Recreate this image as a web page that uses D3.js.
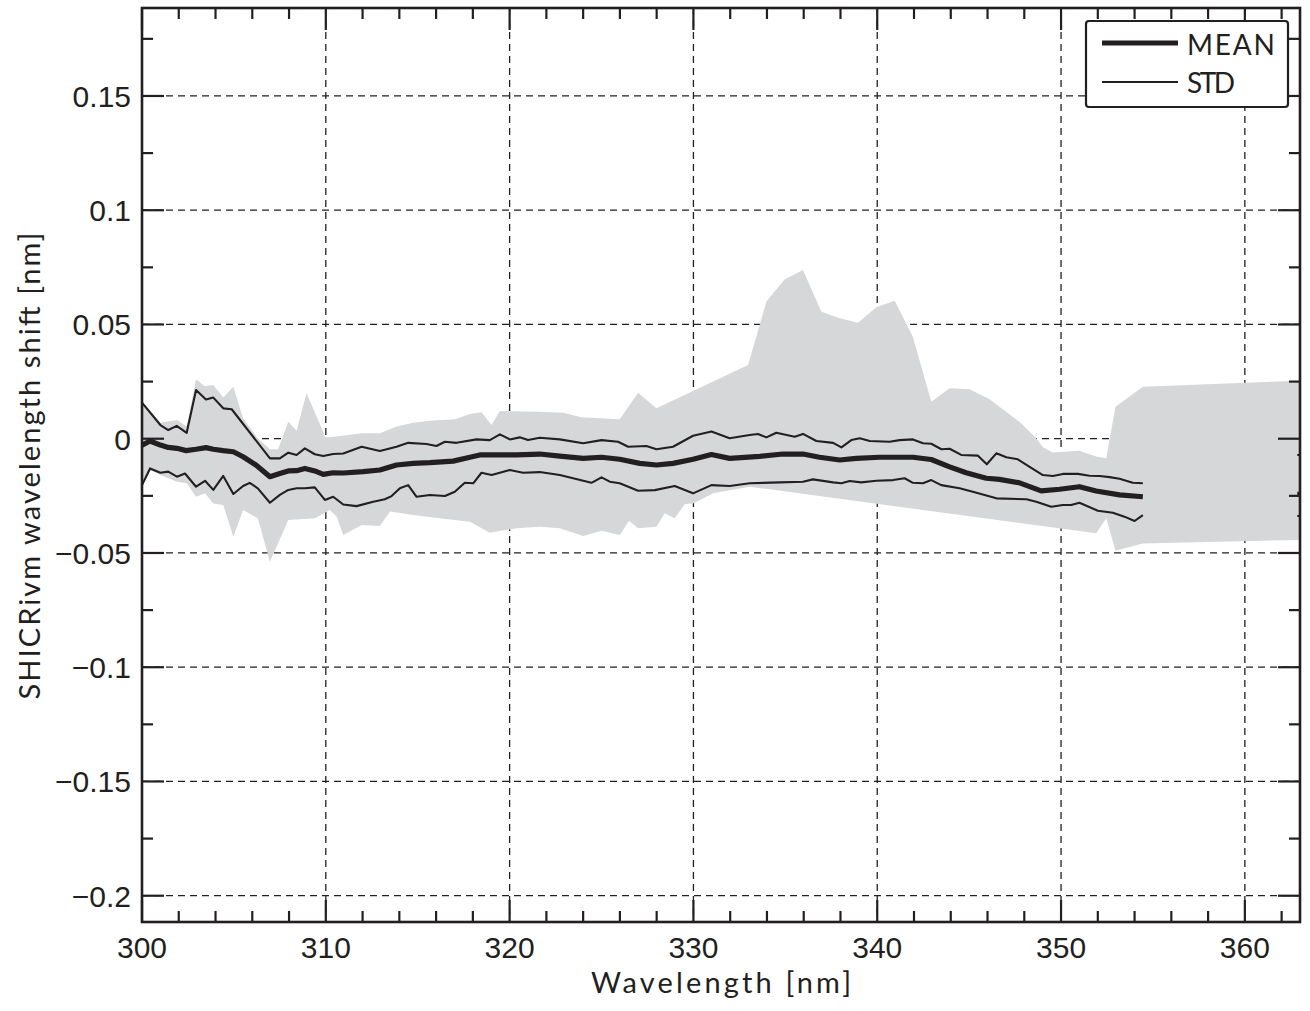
<!DOCTYPE html>
<html><head><meta charset="utf-8">
<script src="https://cdn.jsdelivr.net/npm/d3@7"></script>
<style>
html,body{margin:0;padding:0;background:#fff;}
</style></head>
<body><svg id="chart" width="1310" height="1011"></svg>
<script>
// ---------------- DATA ----------------
const meanW = [300.0,300.44,301.0,301.43,301.9,302.4,302.94,303.48,303.88,304.42,304.97,305.5,306.2,306.96,307.5,307.96,308.41,308.86,309.4,309.86,310.4,310.95,312.03,312.94,313.85,314.75,315.66,316.93,317.84,318.38,319.29,320.38,321.64,322.73,324.0,325.0,325.99,327.08,327.99,328.89,329.98,330.98,331.97,333.61,334.87,335.96,336.86,337.96,338.86,340.13,341.94,342.94,343.94,344.84,345.93,346.65,347.74,348.92,349.92,351.0,351.91,353.18,354.45];
const meanV = [-0.0028,-0.001,-0.0028,-0.0038,-0.0042,-0.0052,-0.0046,-0.0039,-0.0046,-0.0052,-0.0057,-0.0079,-0.0115,-0.0166,-0.0152,-0.0141,-0.014,-0.013,-0.0141,-0.0156,-0.0149,-0.015,-0.0144,-0.0137,-0.0115,-0.0108,-0.0105,-0.0098,-0.0081,-0.0071,-0.0071,-0.0071,-0.0067,-0.0076,-0.0086,-0.0081,-0.009,-0.0108,-0.0115,-0.0108,-0.009,-0.0069,-0.0086,-0.0077,-0.0067,-0.0067,-0.0081,-0.0093,-0.0086,-0.0081,-0.0081,-0.0091,-0.0123,-0.0149,-0.0173,-0.0178,-0.0193,-0.0228,-0.0221,-0.021,-0.0229,-0.0246,-0.0254];

const stdHiW = [300.0,301.0,301.43,301.89,302.43,302.94,303.48,303.88,304.42,304.88,306.96,307.5,307.96,308.41,308.86,309.4,309.86,310.4,310.95,311.95,312.94,313.85,314.48,315.48,316.02,316.48,317.11,318.2,318.92,319.47,320.01,320.55,321.0,321.64,322.73,324.0,325.0,325.9,326.45,327.44,327.99,328.89,329.98,330.98,331.97,333.06,333.51,333.97,334.51,335.51,335.96,336.69,337.6,338.05,338.59,339.05,339.59,340.67,341.22,341.94,342.49,342.94,343.49,343.94,344.57,345.48,345.96,346.48,347.02,347.65,348.29,349.01,349.56,350.1,350.91,351.55,352.1,352.64,353.18,353.9,354.45];
const stdHiV = [0.0158,0.006,0.0038,0.0056,0.0026,0.0213,0.0172,0.018,0.0133,0.0129,-0.0086,-0.0086,-0.0061,-0.0071,-0.0042,-0.0068,-0.0076,-0.0067,-0.0065,-0.0035,-0.0054,-0.0035,-0.0018,-0.0023,-0.0032,-0.0013,-0.0018,-0.0003,-0.0006,0.0019,-0.0003,0.0006,-0.0006,0.0004,-0.0003,-0.002,-0.0006,-0.0013,-0.0035,-0.0032,-0.0046,-0.0035,0.0013,0.0032,0.0002,0.0016,0.0021,0.0006,0.0026,0.0009,0.0021,-0.001,-0.0018,-0.0038,-0.0006,0.0002,-0.001,-0.0013,-0.0006,-0.0003,-0.002,-0.0022,-0.0046,-0.0044,-0.0071,-0.0074,-0.0112,-0.0064,-0.0081,-0.009,-0.0123,-0.0159,-0.0163,-0.0154,-0.0154,-0.0162,-0.0163,-0.0168,-0.0175,-0.0193,-0.0195];

const stdLoW = [300.0,300.44,301.0,301.43,301.9,302.34,302.94,303.43,303.88,304.42,304.97,305.5,305.86,306.3,306.96,307.5,307.96,308.41,308.86,309.4,309.95,310.4,310.95,311.67,312.58,313.21,313.58,314.03,314.48,314.94,315.66,316.48,317.02,317.56,318.02,318.47,319.02,320.01,320.73,321.64,322.73,324.45,325.0,325.45,325.99,326.99,327.9,328.98,329.98,330.98,331.97,333.06,334.69,335.96,336.5,337.6,338.05,338.5,339.13,339.95,340.86,341.49,341.94,342.49,342.94,343.48,344.48,345.2,346.48,348.11,348.65,349.47,350.1,350.55,351.0,352.0,352.82,353.45,354.0,354.45];
const stdLoV = [-0.0203,-0.013,-0.0149,-0.0144,-0.0166,-0.0152,-0.021,-0.0184,-0.0224,-0.0163,-0.0242,-0.0207,-0.0193,-0.0217,-0.028,-0.0246,-0.0224,-0.0217,-0.0217,-0.0213,-0.0268,-0.0254,-0.0288,-0.0295,-0.0276,-0.0265,-0.0251,-0.0217,-0.0203,-0.0254,-0.0246,-0.0251,-0.0232,-0.0193,-0.0195,-0.0149,-0.0159,-0.0137,-0.0149,-0.0146,-0.0159,-0.0193,-0.0169,-0.0188,-0.0195,-0.0228,-0.0225,-0.0207,-0.0239,-0.0203,-0.0207,-0.0195,-0.0191,-0.0188,-0.0178,-0.0191,-0.0195,-0.0185,-0.0191,-0.0184,-0.0181,-0.0173,-0.0193,-0.0195,-0.0181,-0.0203,-0.0217,-0.0232,-0.0261,-0.0265,-0.0276,-0.0298,-0.029,-0.029,-0.028,-0.0315,-0.0324,-0.0341,-0.036,-0.0334];

const envMaxW = [300.0,301.0,301.9,302.43,302.94,303.4,303.88,304.42,304.97,305.5,306.3,306.96,307.4,307.96,308.41,308.95,309.86,309.95,310.22,311.95,312.94,313.85,314.75,315.66,317.02,317.84,318.47,319.02,319.47,321.64,322.91,323.91,325.99,326.99,327.99,332.97,333.97,334.97,335.96,336.96,337.96,338.95,339.95,340.95,341.94,342.94,343.94,345.02,346.11,347.74,348.65,349.01,349.56,351.0,351.91,352.46,352.96,354.45,363.0];
const envMaxV = [0.0162,0.007,0.0082,0.0053,0.026,0.023,0.0235,0.018,0.0228,0.0089,0.0002,-0.0046,-0.0046,0.0074,0.0035,0.0199,0.0031,0.0006,0.0006,0.0024,0.0024,0.0053,0.007,0.0079,0.0085,0.0108,0.0116,0.006,0.0121,0.0118,0.0114,0.0094,0.0085,0.0201,0.0133,0.0323,0.06,0.0698,0.0738,0.0556,0.0527,0.0508,0.0575,0.0604,0.0446,0.0162,0.0221,0.0216,0.0173,0.0074,0.0002,-0.0037,-0.006,-0.0053,-0.0078,-0.0086,0.014,0.0228,0.0254];

const envMinW = [300.0,300.44,301.0,301.9,302.43,302.94,303.43,303.88,304.42,304.97,305.5,306.3,306.96,307.96,309.4,310.22,310.59,310.95,311.95,312.94,313.49,314.75,316.2,317.84,318.92,320.38,321.64,322.73,324.0,325.0,325.99,326.5,326.99,327.99,328.44,328.98,329.53,329.98,331.07,333.06,351.91,352.46,352.96,354.45,363.0];
const envMinV = [-0.021,-0.0137,-0.0159,-0.0188,-0.0195,-0.0254,-0.0239,-0.0283,-0.029,-0.0429,-0.0312,-0.0348,-0.0538,-0.0356,-0.0348,-0.0312,-0.0341,-0.0421,-0.0378,-0.0382,-0.0319,-0.0334,-0.0348,-0.0363,-0.0411,-0.0392,-0.0385,-0.0392,-0.0426,-0.0403,-0.0421,-0.0359,-0.0392,-0.0385,-0.0326,-0.0348,-0.0286,-0.0283,-0.0239,-0.021,-0.0414,-0.0348,-0.049,-0.0458,-0.0443];

// short stubs of the series at the right edge (363 nm)
const tailW = [362.85, 363.0];
const tailMeanV = [-0.0243, -0.0243];
const tailHiV = [-0.0071, -0.0071];
const tailLoV = [-0.0338, -0.0338];

const xMajorTicks = [300,310,320,330,340,350,360];
const xMinorTicks = [302,304,306,308,312,314,316,318,322,324,326,328,332,334,336,338,342,344,346,348,352,354,356,358,362];
const yMajorTicks = [-0.2,-0.15,-0.1,-0.05,0,0.05,0.1,0.15];
const yMinorTicks = [-0.175,-0.125,-0.075,-0.025,0.025,0.075,0.125,0.175];
const yTickLabels = ["\u22120.2","\u22120.15","\u22120.1","\u22120.05","0","0.05","0.1","0.15"];
const xLabel = "Wavelength [nm]";
const yLabel = "SHICRivm wavelength shift [nm]";
const legendLabels = ["MEAN","STD"];

// ---------------- CHART ----------------
const ink = "#231f20";
const L = 142, R = 1300, T = 8, B = 922;
const svg = d3.select("#chart");
const x = d3.scaleLinear().domain([300,363]).range([L,R]);
const y = d3.scaleLinear().domain([-0.2115,0.1885]).range([B,T]);

svg.append("defs").append("clipPath").attr("id","clip")
  .append("rect").attr("x",L).attr("y",T).attr("width",R-L).attr("height",B-T);

// grid
const grid = svg.append("g").attr("stroke",ink).attr("stroke-width",1.3).attr("stroke-dasharray","7,5");
grid.selectAll("line.gx").data(xMajorTicks).join("line")
  .attr("x1",d=>x(d)).attr("x2",d=>x(d)).attr("y1",T).attr("y2",B);
grid.selectAll("line.gy").data(yMajorTicks).join("line")
  .attr("y1",d=>y(d)).attr("y2",d=>y(d)).attr("x1",L).attr("x2",R);

const plot = svg.append("g").attr("clip-path","url(#clip)");

// envelope
const upper = envMaxW.map((w,i)=>[w,envMaxV[i]]);
const lower = envMinW.map((w,i)=>[w,envMinV[i]]).reverse();
const poly = upper.concat(lower);
plot.append("path")
  .attr("d", d3.line().x(d=>x(d[0])).y(d=>y(d[1]))(poly) + "Z")
  .attr("fill","#d6d7d9").attr("stroke","none");

const line = d3.line().x(d=>x(d[0])).y(d=>y(d[1]));
function drawSeries(ws, vs, width){
  plot.append("path").datum(ws.map((w,i)=>[w,vs[i]]))
    .attr("d",line).attr("fill","none").attr("stroke",ink)
    .attr("stroke-width",width).attr("stroke-linejoin","round");
}
drawSeries(stdHiW, stdHiV, 2.1);
drawSeries(stdLoW, stdLoV, 2.1);
drawSeries(meanW, meanV, 5.2);
drawSeries(tailW, tailHiV, 2);
drawSeries(tailW, tailLoV, 2);
drawSeries(tailW, tailMeanV, 5);

// ticks (inward on all sides)
function tickLines(vals, isX, len, width){
  const g = svg.append("g").attr("stroke",ink).attr("stroke-width",width);
  vals.forEach(v=>{
    if(isX){
      g.append("line").attr("x1",x(v)).attr("x2",x(v)).attr("y1",B).attr("y2",B-len);
      g.append("line").attr("x1",x(v)).attr("x2",x(v)).attr("y1",T).attr("y2",T+len);
    } else {
      g.append("line").attr("y1",y(v)).attr("y2",y(v)).attr("x1",L).attr("x2",L+len);
      g.append("line").attr("y1",y(v)).attr("y2",y(v)).attr("x1",R).attr("x2",R-len);
    }
  });
}
tickLines(xMajorTicks, true, 22, 2.2);
tickLines(xMinorTicks, true, 11, 2.2);
tickLines(yMajorTicks, false, 22, 2.2);
tickLines(yMinorTicks, false, 11, 2.2);

// frame
svg.append("rect").attr("x",L).attr("y",T).attr("width",R-L).attr("height",B-T)
  .attr("fill","none").attr("stroke",ink).attr("stroke-width",2.6);

// tick labels
const tickFont = "'Liberation Sans', Arial, sans-serif";
svg.append("g").selectAll("text").data(xMajorTicks).join("text")
  .attr("x",d=>x(d)).attr("y",958).attr("text-anchor","middle")
  .attr("font-family",tickFont).attr("font-size",30).attr("fill",ink)
  .text(d=>d);
svg.append("g").selectAll("text").data(yMajorTicks).join("text")
  .attr("x",131).attr("y",d=>y(d)+11).attr("text-anchor","end")
  .attr("font-family",tickFont).attr("font-size",30).attr("fill",ink)
  .text((d,i)=>yTickLabels[i]);

// axis labels
const labFont = "Lato, 'Noto Sans', sans-serif";
svg.append("text").attr("x",721).attr("y",993).attr("text-anchor","middle")
  .attr("font-family",labFont).attr("font-size",29).attr("fill",ink)
  .attr("textLength",260).attr("lengthAdjust","spacing").text(xLabel);
svg.append("text").attr("transform","translate(40,466) rotate(-90)").attr("text-anchor","middle")
  .attr("font-family",labFont).attr("font-size",29).attr("fill",ink)
  .attr("textLength",467).attr("lengthAdjust","spacing").text(yLabel);

// legend
const lg = svg.append("g");
lg.append("rect").attr("x",1086).attr("y",21).attr("width",202).attr("height",86).attr("rx",3)
  .attr("fill","#fff").attr("stroke",ink).attr("stroke-width",2.2);
lg.append("line").attr("x1",1102).attr("x2",1178).attr("y1",43).attr("y2",43)
  .attr("stroke",ink).attr("stroke-width",5);
lg.append("line").attr("x1",1102).attr("x2",1178).attr("y1",82).attr("y2",82)
  .attr("stroke",ink).attr("stroke-width",2);
lg.append("text").attr("x",1187).attr("y",55).attr("font-family",labFont).attr("font-size",28)
  .attr("fill",ink).attr("textLength",88).attr("lengthAdjust","spacing").text(legendLabels[0]);
lg.append("text").attr("x",1187).attr("y",93).attr("font-family",labFont).attr("font-size",28)
  .attr("fill",ink).attr("textLength",48).attr("lengthAdjust","spacing").text(legendLabels[1]);
</script></body></html>
